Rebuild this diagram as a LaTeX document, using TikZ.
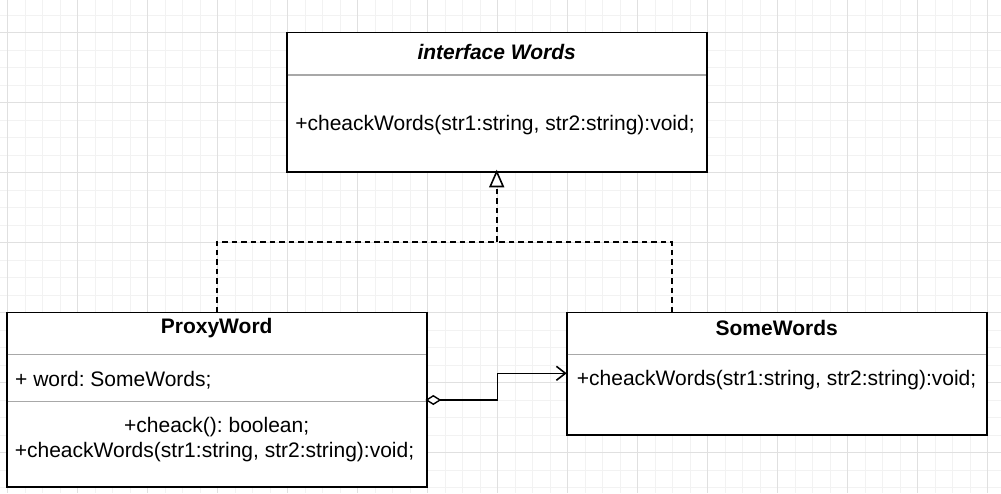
\documentclass[tikz,border=0pt]{standalone}
\usepackage{fontspec}
\setmainfont{Liberation Sans}
\usetikzlibrary{arrows.meta}
\frenchspacing
\definecolor{gridminor}{HTML}{F2F2F2}
\definecolor{gridmajor}{HTML}{E0E0E0}
\definecolor{divider}{HTML}{A8A8A8}
\tikzset{
  box/.style={draw=black, line width=1.6pt, fill=white},
  divline/.style={draw=divider, line width=1.4pt},
  txt/.style={inner sep=0pt, font=\fontsize{21pt}{25pt}\selectfont},
  ttl/.style={txt, font=\fontsize{21pt}{25pt}\selectfont\bfseries},
  realize/.style={draw=black, line width=1.6pt, dash pattern=on 5.5pt off 4pt},
  assoc/.style={draw=black, line width=1.6pt},
}
\begin{document}
\begin{tikzpicture}[x=1pt,y=-1pt]
\useasboundingbox (0,0) rectangle (1001,493);
\fill[white] (0,0) rectangle (1001,493);
% grid
\foreach \i in {0,...,57} {\draw[gridminor, line width=0.8pt] ({7.5+17.5*\i},0) -- ({7.5+17.5*\i},493);}
\foreach \j in {0,...,28} {\draw[gridminor, line width=0.8pt] (0,{15+17.5*\j}) -- (1001,{15+17.5*\j});}
\foreach \i in {0,...,14} {\draw[gridmajor, line width=1pt] ({7.5+70*\i},0) -- ({7.5+70*\i},493);}
\foreach \j in {0,...,6} {\draw[gridmajor, line width=1pt] (0,{32.5+70*\j}) -- (1001,{32.5+70*\j});}

% interface Words
\draw[box] (286.7,32.3) rectangle (706.7,171.7);
\draw[divline] (287.5,75) -- (705.9,75);
\node[ttl, font=\fontsize{21pt}{25pt}\selectfont\bfseries\itshape] (wt) at (496.7,51.7) {interface Words};
\node[txt] (wm) at (495,125) {+cheackWords(str1:string, str2:string):void;};
\coordinate (wtop) at (496.7,32.3);
\coordinate (wbot) at (496.7,171.7);

% ProxyWord
\draw[box] (6.7,312.3) rectangle (426.7,486.7);
\draw[divline] (7.5,354.3) -- (425.9,354.3);
\draw[divline] (7.5,401.7) -- (425.9,401.7);
\node[ttl] (pt) at (216.7,328.3) {ProxyWord};
\node[txt, anchor=west] (pa) at (15,380) {+ word: SomeWords;};
\node[txt] (pm1) at (216.7,426.7) {+cheack(): boolean;};
\node[txt] (pm2) at (214.5,451.7) {+cheackWords(str1:string, str2:string):void;};
\coordinate (ptop) at (216.7,312.3);
\coordinate (pright) at (426.7,400);

% SomeWords
\draw[box] (566.7,312.3) rectangle (986.7,435);
\draw[divline] (567.5,354.3) -- (985.9,354.3);
\node[ttl] (st) at (776.7,328.3) {SomeWords};
\node[txt, anchor=west] (sm) at (576.7,380) {+cheackWords(str1:string, str2:string):void;};
\coordinate (stop) at (671.7,312.3);
\coordinate (sleft) at (566.7,373.3);

% realization
\coordinate (j) at (496.7,241.7);
\draw[realize] (ptop) |- (j);
\draw[realize] (stop) |- (j);
\draw[realize] (j) -- (496.7,186);
\draw[black, line width=1.6pt, fill=white] (wbot) -- (503.2,186.5) -- (490.2,186.5) -- cycle;

% aggregation
\draw[assoc, -{Straight Barb[length=9pt, width=14pt, line width=1.6pt]}] (440,400) -- (497.3,400) -- (497.3,373.3) -- (sleft);
\draw[black, line width=1.4pt, fill=white] (pright) -- (433.3,395.8) -- (440,400) -- (433.3,404.2) -- cycle;
\end{tikzpicture}
\end{document}
